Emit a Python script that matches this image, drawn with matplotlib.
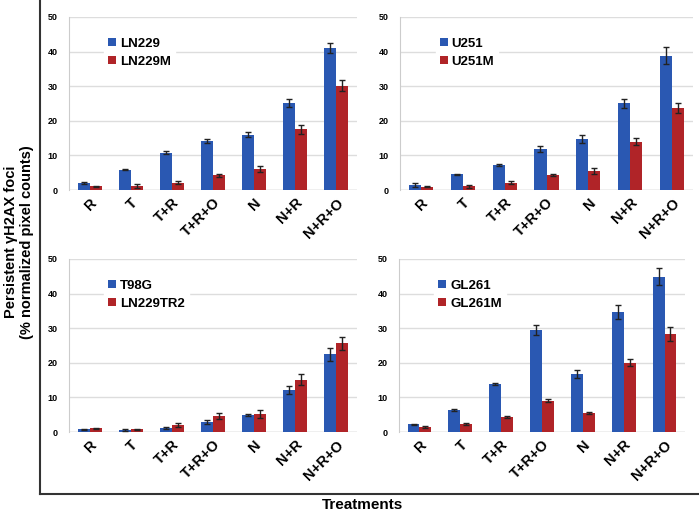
import matplotlib
matplotlib.use("Agg")
import matplotlib.pyplot as plt
import matplotlib.transforms as mtransforms
import numpy as np

plt.rcParams['font.family'] = ['Liberation Sans', 'DejaVu Sans']

categories = ["R", "T", "T+R", "T+R+O", "N", "N+R", "N+R+O"]

ln229 = [2.0, 5.9, 10.8, 14.1, 16.0, 25.2, 41.0]
ln229_err = [0.2, 0.2, 0.4, 0.6, 0.8, 1.1, 1.5]
ln229m = [1.1, 1.1, 2.1, 4.3, 6.0, 17.5, 30.2]
ln229m_err = [0.2, 0.5, 0.4, 0.4, 0.9, 1.3, 1.6]

u251 = [1.4, 4.5, 7.2, 11.9, 14.7, 25.1, 38.8]
u251_err = [0.5, 0.2, 0.4, 0.8, 1.2, 1.3, 2.5]
u251m = [1.0, 1.1, 2.1, 4.3, 5.5, 13.9, 23.7]
u251m_err = [0.2, 0.4, 0.4, 0.2, 0.8, 1.0, 1.4]

t98g = [0.8, 0.7, 1.1, 2.9, 4.8, 12.1, 22.4]
t98g_err = [0.1, 0.3, 0.3, 0.5, 0.3, 1.1, 1.9]
ln229tr2 = [1.1, 0.8, 2.1, 4.6, 5.3, 15.1, 25.6]
ln229tr2_err = [0.2, 0.2, 0.6, 0.8, 1.2, 1.6, 1.8]

gl261 = [2.2, 6.4, 14.0, 29.4, 16.8, 34.6, 44.9]
gl261_err = [0.1, 0.2, 0.3, 1.5, 1.2, 2.0, 2.4]
gl261m = [1.5, 2.3, 4.3, 9.1, 5.4, 20.0, 28.4]
gl261m_err = [0.2, 0.4, 0.3, 0.5, 0.3, 1.0, 2.0]

yticks = [0, 10, 20, 30, 40, 50]

BLUE = "#2a58b2"
RED = "#b02428"

W, H = 699, 513
fig = plt.figure(figsize=(W / 100, H / 100), dpi=100)


def px_axes(left, top, right, bottom):
    return fig.add_axes([left / W, 1 - bottom / H, (right - left) / W, (bottom - top) / H])


panels = [
    ((69, 17, 357, 190), ("LN229", ln229, ln229_err), ("LN229M", ln229m, ln229m_err)),
    ((400, 17, 693, 190), ("U251", u251, u251_err), ("U251M", u251m, u251m_err)),
    ((69, 259, 357, 432), ("T98G", t98g, t98g_err), ("LN229TR2", ln229tr2, ln229tr2_err)),
    ((399, 259, 685, 432), ("GL261", gl261, gl261_err), ("GL261M", gl261m, gl261m_err)),
]

bw = 0.29
x = np.arange(len(categories))
shift = mtransforms.ScaledTranslation(4 / 100, 0, fig.dpi_scale_trans)
for rect, (n1, v1, e1), (n2, v2, e2) in panels:
    ax = px_axes(*rect)
    ax.bar(x - bw / 2, v1, bw, color=BLUE, label=n1, zorder=3,
           yerr=e1, error_kw=dict(ecolor="#222222", elinewidth=1, capsize=2, capthick=1, zorder=4))
    ax.bar(x + bw / 2, v2, bw, color=RED, label=n2, zorder=3,
           yerr=e2, error_kw=dict(ecolor="#222222", elinewidth=1, capsize=2, capthick=1, zorder=4))
    ax.set_xlim(-0.5, len(categories) - 0.5)
    ax.set_ylim(0, 50)
    ax.set_yticks(yticks)
    ax.set_yticklabels([str(t) for t in yticks], fontsize=6.5, fontweight="bold")
    ax.set_xticks(x)
    ax.set_xticklabels(categories, rotation=45, ha="right", rotation_mode="anchor",
                       fontsize=10.5, fontweight="bold")
    for lbl in ax.get_xticklabels():
        lbl.set_transform(lbl.get_transform() + shift)
    ax.tick_params(axis="both", length=0, pad=4)
    ax.tick_params(axis="y", pad=8)
    ax.yaxis.grid(True, color="#dddddd", linewidth=1, zorder=0)
    for s in ["top", "right", "bottom"]:
        ax.spines[s].set_visible(False)
    ax.spines["left"].set_color("#cccccc")
    ax.axhline(0, color="#cccccc", linewidth=1, zorder=2)
    leg = ax.legend(loc="upper left", bbox_to_anchor=(0.1, 0.94), frameon=True,
                    fancybox=False, framealpha=1, edgecolor="white",
                    prop=dict(size=9.5, weight="bold"), handlelength=0.6, handleheight=0.6,
                    handletextpad=0.3, borderpad=0.3, labelspacing=0.45)
    leg.set_zorder(5)

# Outer frame lines
fig.add_artist(plt.Line2D([40 / W, 40 / W], [1 - 0 / H, 1 - 494 / H], color="#333333", linewidth=1.5))
fig.add_artist(plt.Line2D([40 / W, 1.0], [1 - 494 / H, 1 - 494 / H], color="#333333", linewidth=1.5))

fig.text(19 / W, 1 - 242 / H, "Persistent \u03b3H2AX foci\n(% normalized pixel counts)",
         rotation=90, ha="center", va="center", fontsize=10.5, fontweight="bold",
         linespacing=1.25)
fig.text(363 / W, 1 - 505 / H, "Treatments", ha="center", va="center",
         fontsize=11, fontweight="bold")

fig.savefig("out.png", dpi=100)
